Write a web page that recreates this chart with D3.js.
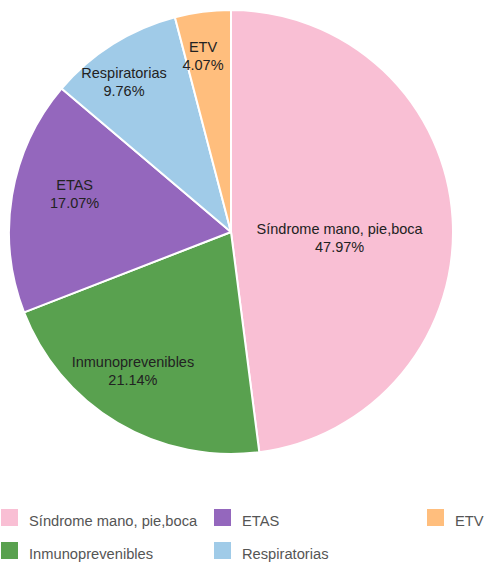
<!DOCTYPE html>
<html><head><meta charset="utf-8">
<script src="https://cdn.jsdelivr.net/npm/d3@7"></script>
<style>body{margin:0;background:#fff}svg{display:block;font-family:"Liberation Sans",Arial,sans-serif}</style>
</head><body><svg id="c" width="485" height="563"></svg>
<script>
const categories = ["Síndrome mano, pie,boca","Inmunoprevenibles","ETAS","Respiratorias","ETV"];
const values = [59, 26, 21, 12, 5];
const colors = ["#F9BFD4","#59A14F","#9467BD","#A0CBE8","#FFBE7D"];
// label placement: radius fraction and angle offset (deg) per slice
const labelRadius = [0.49, 0.766, 0.725, 0.83, 0.805];
const labelAngleOffset = [6.8, 4.5, 4.2, -3.3, -1.7];

const svg = d3.select("#c");
const cx = 231, cy = 232, R = 222;
const total = d3.sum(values);
const data = categories.map((c,i)=>({c, v: values[i], i}));
const pie = d3.pie().value(d=>d.v).sort(null);
const arcs = pie(data);
const arc = d3.arc().innerRadius(0).outerRadius(R);
const g = svg.append("g").attr("transform",`translate(${cx},${cy})`);
g.selectAll("path").data(arcs).join("path")
  .attr("d", arc).attr("fill", d=>colors[d.data.i])
  .attr("stroke","#fff").attr("stroke-width",2).attr("stroke-linejoin","round");
const fmt = d3.format(".2f");
arcs.forEach(a=>{
  const i = a.data.i;
  const ang = (a.startAngle + a.endAngle)/2 + labelAngleOffset[i]*Math.PI/180;
  const d = labelRadius[i]*R;
  const x = d*Math.sin(ang), y = -d*Math.cos(ang);
  const t = g.append("text").attr("text-anchor","middle").attr("font-size",14.5).attr("fill","#222");
  t.append("tspan").attr("x",x).attr("y",y-4).text(a.data.c);
  t.append("tspan").attr("x",x).attr("y",y+14).text(fmt(a.data.v/total*100)+"%");
});
const colX = [1, 214, 427], rowY = [509, 542];
categories.forEach((name,k)=>{
  const col = Math.floor(k/2), row = k%2;
  const lg = svg.append("g").attr("transform",`translate(${colX[col]},${rowY[row]})`);
  lg.append("rect").attr("width",17).attr("height",17).attr("fill",colors[k]);
  lg.append("text").attr("x",28).attr("y",16.5).attr("font-size",14.7).attr("fill","#555").text(name);
});
</script></body></html>
